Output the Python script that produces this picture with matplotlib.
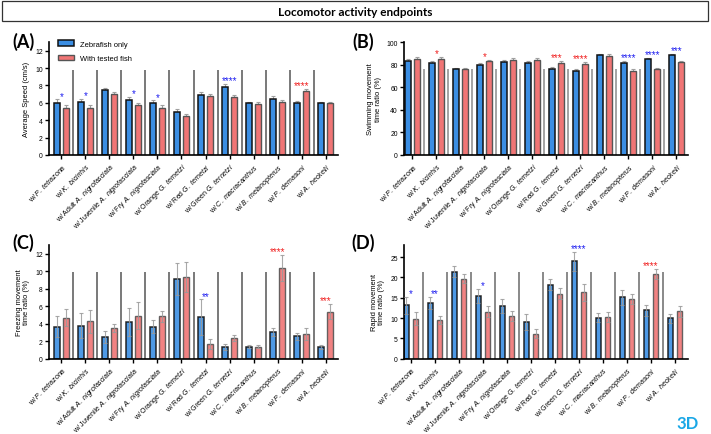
import numpy as np
import matplotlib
matplotlib.use("Agg")
import matplotlib.pyplot as plt
from matplotlib.patches import Rectangle, Patch

plt.rcParams['font.family'] = ['Liberation Sans', 'DejaVu Sans']
plt.rcParams['mathtext.fontset'] = 'custom'
plt.rcParams['mathtext.it'] = 'Liberation Sans:italic'
plt.rcParams['mathtext.rm'] = 'Liberation Sans'

# ---------------- data ----------------
categories = ["P. tetrazona", "K. bicirrhis", "Adult A. nigrofasciata",
              "Juvenile A. nigrofasciata", "Fry A. nigrofasciata",
              "Orange G. ternetzi", "Red G. ternetzi", "Green G. ternetzi",
              "C. macracanthus", "B. melanopterus", "P. demasoni", "A. heckelii"]
series_names = ["Zebrafish only", "With tested fish"]

speed_zebra = [6.0, 6.1, 7.45, 6.35, 6.0, 4.9, 6.95, 7.85, 5.95, 6.45, 6.0, 5.95]
speed_zebra_err = [0.4, 0.35, 0.25, 0.35, 0.3, 0.4, 0.3, 0.3, 0.15, 0.3, 0.2, 0.15]
speed_tested = [5.35, 5.45, 7.05, 5.7, 5.45, 4.45, 6.75, 6.65, 5.9, 6.15, 7.4, 5.95]
speed_tested_err = [0.35, 0.3, 0.2, 0.3, 0.3, 0.25, 0.25, 0.25, 0.2, 0.2, 0.2, 0.2]
speed_sig = ["*", "*", "", "*", "*", "", "", "****", "", "", "****", ""]

swim_zebra = [83.0, 81.8, 76.0, 79.5, 82.7, 81.2, 76.5, 74.2, 88.3, 81.2, 85.0, 88.5]
swim_zebra_err = [2.0, 1.5, 0.8, 1.5, 1.2, 1.8, 1.5, 2.0, 0.8, 2.0, 1.0, 0.8]
swim_tested = [84.8, 85.3, 76.5, 83.0, 84.2, 83.9, 81.8, 80.4, 88.0, 74.5, 76.0, 82.7]
swim_tested_err = [1.5, 1.5, 0.8, 1.2, 1.2, 1.5, 1.5, 2.0, 1.0, 1.8, 0.8, 0.8]
swim_sig = ["", "*", "", "*", "", "", "***", "****", "", "****", "****", "***"]

freeze_zebra = [3.63, 3.78, 2.45, 4.17, 3.67, 9.1, 4.74, 1.38, 1.38, 3.05, 2.56, 1.34]
freeze_zebra_err = [1.2, 1.4, 0.7, 1.6, 0.7, 1.8, 2.05, 0.35, 0.2, 0.45, 0.4, 0.2]
freeze_tested = [4.7, 4.28, 3.52, 4.93, 4.85, 9.32, 1.68, 2.33, 1.38, 10.39, 2.83, 5.39]
freeze_tested_err = [1.0, 1.3, 0.5, 1.5, 0.65, 1.7, 0.55, 0.35, 0.2, 1.5, 0.65, 0.9]
freeze_sig = ["", "", "", "", "", "", "**", "", "", "****", "", "***"]

rapid_zebra = [13.16, 13.73, 21.46, 15.46, 13.0, 9.05, 18.26, 24.0, 10.1, 15.13, 11.92, 9.95]
rapid_zebra_err = [2.1, 1.5, 1.3, 1.7, 1.65, 1.95, 1.4, 2.3, 1.15, 1.8, 1.4, 1.15]
rapid_tested = [9.87, 9.54, 19.74, 11.6, 10.53, 6.17, 16.04, 16.37, 10.28, 14.72, 20.89, 11.68]
rapid_tested_err = [1.55, 1.05, 1.05, 1.3, 1.3, 1.07, 1.3, 2.05, 1.3, 1.23, 1.23, 1.3]
rapid_sig = ["*", "**", "", "*", "", "", "", "****", "", "", "****", ""]

# ---------------- style ----------------
BLUE = "#3b8ee3"
RED = "#f07575"
SIG_BLUE = "#2020f0"
SIG_RED = "#f02020"


def make_label(cat):
    words = cat.split(" ")
    pre = " ".join(words[:-2])
    sp = r"$\mathit{" + words[-2] + r"\ " + words[-1] + "}$"
    return "w/ " + (pre + " " if pre else "") + sp


labels = [make_label(c) for c in categories]

W, H = 711, 435
fig = plt.figure(figsize=(W / 100, H / 100), dpi=100)


def px_axes(left, right, top, bottom):
    return fig.add_axes([left / W, 1 - bottom / H, (right - left) / W, (bottom - top) / H])


def draw_panel(ax, zebra, zerr, tested, terr, sig, ylim, yticks, ylabel, xlim,
               sep_h, sep_color, both_err):
    x = np.arange(len(categories))
    off = 0.19
    bw = 0.24
    alpha = 0.9 if both_err else 1.0
    ax.vlines(x[:-1] + 0.5, 0, sep_h, color=sep_color, lw=1.1, zorder=1)
    if both_err:
        ax.bar(x - off, zebra, bw, color=BLUE, edgecolor="#111111", lw=1.1, zorder=2, alpha=alpha)
        ax.bar(x + off, tested, bw, color=RED, edgecolor="#555555", lw=1.0, zorder=2, alpha=alpha)
        ax.errorbar(x - off, zebra, yerr=zerr, fmt="none", ecolor="#9a9a9a", elinewidth=0.8,
                    capsize=1.6, capthick=0.8, zorder=3, alpha=0.85)
        ax.errorbar(x + off, tested, yerr=terr, fmt="none", ecolor="#9a9a9a", elinewidth=0.8,
                    capsize=1.6, capthick=0.8, zorder=3, alpha=0.85)
    else:
        ax.errorbar(x - off, zebra, yerr=zerr, fmt="none", ecolor="#a0a0a0", elinewidth=0.8,
                    capsize=1.6, capthick=0.8, zorder=1.5)
        ax.errorbar(x + off, tested, yerr=terr, fmt="none", ecolor="#a0a0a0", elinewidth=0.8,
                    capsize=1.6, capthick=0.8, zorder=1.5)
        ax.bar(x - off, zebra, bw, color=BLUE, edgecolor="#111111", lw=1.1, zorder=2)
        ax.bar(x + off, tested, bw, color=RED, edgecolor="#555555", lw=1.0, zorder=2)
    for i, s in enumerate(sig):
        if not s:
            continue
        top = max(zebra[i] + zerr[i], tested[i] + terr[i])
        col = SIG_BLUE if zebra[i] > tested[i] else SIG_RED
        ax.annotate(s, xy=(x[i], top), xytext=(0, -1.0), textcoords="offset points",
                    ha="center", va="bottom", color=col, fontsize=7, zorder=4)
    ax.set_xlim(*xlim)
    ax.set_ylim(*ylim)
    ax.set_yticks(yticks)
    ax.set_xticks(x)
    ax.set_xticklabels(labels, rotation=45, ha="right", rotation_mode="anchor", fontsize=5.0)
    ax.tick_params(axis="y", labelsize=4.9, length=3, width=1.0, pad=1.5)
    ax.tick_params(axis="x", length=3, width=1.0, pad=1.5)
    for sp in ["top", "right"]:
        ax.spines[sp].set_visible(False)
    for sp in ["left", "bottom"]:
        ax.spines[sp].set_linewidth(1.2)
    ax.set_ylabel(ylabel, fontsize=5.4, labelpad=3.5, linespacing=1.1)


axA = px_axes(49, 338, 43, 156)
draw_panel(axA, speed_zebra, speed_zebra_err, speed_tested, speed_tested_err, speed_sig,
           (0, 13), np.arange(0, 13, 2), "Average Speed (cm/s)", (-0.52, 11.52), 9.8, "#555555", False)
axB = px_axes(404, 688, 43, 156)
draw_panel(axB, swim_zebra, swim_zebra_err, swim_tested, swim_tested_err, swim_sig,
           (0, 100), np.arange(0, 101, 20), "Swimming movement\ntime ratio (%)", (-0.35, 11.48), 76, "#8a8a8a", False)
axC = px_axes(49, 338, 246, 359.7)
draw_panel(axC, freeze_zebra, freeze_zebra_err, freeze_tested, freeze_tested_err, freeze_sig,
           (0, 13), np.arange(0, 13, 2), "Freezing movement\ntime ratio (%)", (-0.52, 11.52), 9.9, "#555555", True)
axD = px_axes(404, 688, 246, 359.7)
draw_panel(axD, rapid_zebra, rapid_zebra_err, rapid_tested, rapid_tested_err, rapid_sig,
           (0, 28), np.arange(0, 26, 5), "Rapid movement\ntime ratio (%)", (-0.29, 11.54), 21.3, "#6a6a6a", True)

handles = [Patch(facecolor=BLUE, edgecolor="#111111", lw=1.1),
           Patch(facecolor=RED, edgecolor="#555555", lw=1.0)]
axA.legend(handles, series_names, loc="upper left", bbox_to_anchor=(0.02, 1.04), frameon=False,
           fontsize=5.4, handlelength=2.2, handleheight=0.8, labelspacing=0.9, handletextpad=0.8,
           borderaxespad=0)

# title box
fig.patches.append(Rectangle((2 / W, 1 - 22 / H), 706 / W, 20 / H, transform=fig.transFigure,
                             facecolor="white", edgecolor="#333333", lw=0.9))
fig.text(0.5, 1 - 12 / H, "Locomotor activity endpoints", ha="center", va="center",
         fontsize=8.5, fontweight="bold", family=["Lato", "DejaVu Sans"])

for lab, (px, py) in zip(["(A)", "(B)", "(C)", "(D)"], [(23, 42), (363, 42), (23, 243), (363, 243)]):
    fig.text(px / W, 1 - py / H, lab, ha="center", va="center", fontsize=13,
             fontweight="bold", family=["Lato", "DejaVu Sans"])

fig.text(688 / W, 1 - 424 / H, "3D", ha="center", va="center", fontsize=12,
         fontweight="bold", color="#1aa7e6", family=["Lato", "DejaVu Sans"])

fig.savefig("out.png", dpi=100)
